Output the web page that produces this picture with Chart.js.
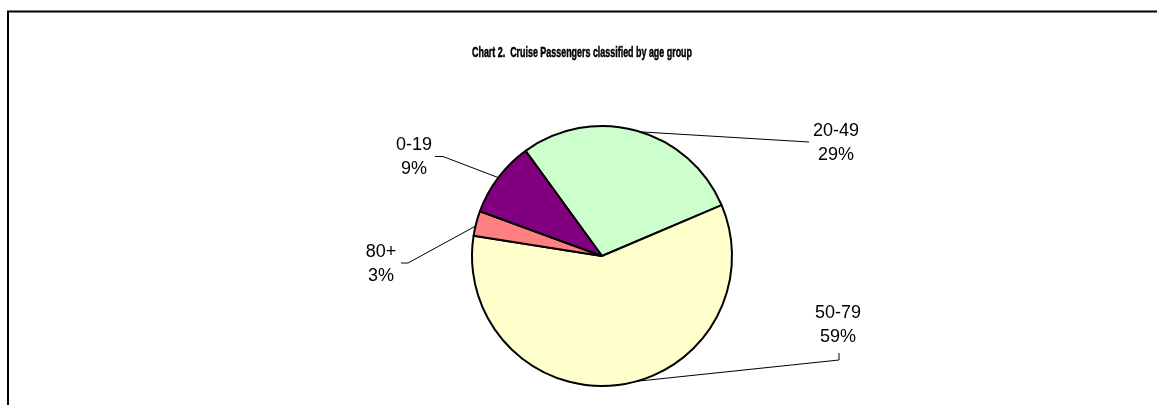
<!DOCTYPE html>
<html>
<head>
<meta charset="utf-8">
<script src="https://cdn.jsdelivr.net/npm/chart.js"></script>
<style>
  html, body { margin: 0; padding: 0; background: #fff; }
  canvas { display: block; }
</style>
</head>
<body>
<canvas id="chart" width="1157" height="405"></canvas>
<script>
const ageGroups = ['20-49', '50-79', '80+', '0-19'];
const sharePercent = [28.6, 58.9, 3.1, 9.4];
const sliceColors = ['#CCFFCC', '#FFFFCC', '#FF8080', '#800080'];
const chartTitle = 'Chart 2.  Cruise Passengers classified by age group';

// label placement: text centre x, first baseline y, anchor shift (deg) and leader line bends
const labelLayout = [
  { x: 836, y: 136, shift: 1.8, bend: [[809, 142]] },
  { x: 838, y: 318, shift: -8.5, bend: [[839, 360], [839, 353]] },
  { x: 381, y: 257, shift: -1.3, bend: [[408, 263], [401, 263]] },
  { x: 414, y: 150, shift: 0, bend: [[443, 156.5], [435, 156.5]] }
];

const frameAndTitle = {
  id: 'frameAndTitle',
  beforeDraw(chart) {
    const ctx = chart.ctx;
    ctx.save();
    ctx.fillStyle = '#fff';
    ctx.fillRect(0, 0, chart.width, chart.height);
    ctx.strokeStyle = '#000';
    ctx.lineWidth = 2;
    ctx.beginPath();
    ctx.moveTo(8, chart.height);
    ctx.lineTo(8, 11.5);
    ctx.lineTo(chart.width, 11.5);
    ctx.stroke();

    // title is a narrow bold face, squeeze a bold one to fit the width
    ctx.font = 'bold 15px "Liberation Sans Narrow", "Arial Narrow", "Liberation Sans", Arial, sans-serif';
    const w = ctx.measureText(chartTitle).width;
    ctx.translate(582, 57);
    ctx.scale(220 / w, 1);
    ctx.fillStyle = '#000';
    ctx.strokeStyle = '#000';
    ctx.lineWidth = 0.5;
    ctx.textAlign = 'center';
    ctx.textBaseline = 'alphabetic';
    ctx.fillText(chartTitle, 0, 0);
    ctx.strokeText(chartTitle, 0, 0);
    ctx.restore();
  }
};

const sliceLabels = {
  id: 'sliceLabels',
  afterDatasetsDraw(chart) {
    const ctx = chart.ctx;
    const arcs = chart.getDatasetMeta(0).data;
    ctx.save();
    arcs.forEach((arc, i) => {
      const p = arc.getProps(['x', 'y', 'startAngle', 'endAngle', 'outerRadius'], true);
      const spot = labelLayout[i];
      const mid = (p.startAngle + p.endAngle) / 2 + spot.shift * Math.PI / 180;
      const ax = p.x + Math.cos(mid) * p.outerRadius;
      const ay = p.y + Math.sin(mid) * p.outerRadius;

      ctx.strokeStyle = '#000';
      ctx.lineWidth = 1;
      ctx.beginPath();
      ctx.moveTo(ax, ay);
      spot.bend.forEach(([bx, by]) => ctx.lineTo(bx, by));
      ctx.stroke();

      ctx.fillStyle = '#000';
      ctx.font = '18px "Liberation Sans", Arial, sans-serif';
      ctx.textAlign = 'center';
      ctx.textBaseline = 'alphabetic';
      ctx.fillText(ageGroups[i], spot.x, spot.y);
      ctx.fillText(Math.round(sharePercent[i]) + '%', spot.x, spot.y + 24);
    });
    ctx.restore();
  }
};

new Chart(document.getElementById('chart'), {
  type: 'pie',
  data: {
    labels: ageGroups,
    datasets: [{
      data: sharePercent,
      backgroundColor: sliceColors,
      borderColor: '#000',
      borderWidth: 2,
      radius: 130
    }]
  },
  options: {
    responsive: false,
    animation: false,
    devicePixelRatio: 1,
    events: [],
    rotation: -36,
    layout: {
      padding: { left: 100, right: 53, top: 120, bottom: 13 }
    },
    plugins: {
      legend: { display: false },
      tooltip: { enabled: false },
      title: { display: false }
    }
  },
  plugins: [frameAndTitle, sliceLabels]
});
</script>
</body>
</html>
